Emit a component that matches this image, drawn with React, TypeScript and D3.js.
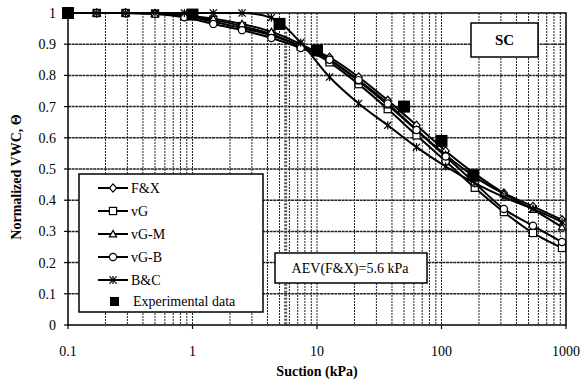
import React from "react";
import * as d3 from "d3";

const suction = [0.1, 0.17, 0.29, 0.5, 0.86, 1.47, 2.5, 4.3, 7.4, 12.6, 21.6, 37, 63, 108, 185, 317, 543, 929];
const fx = [1, 1, 1, 0.998, 0.99, 0.972, 0.952, 0.928, 0.895, 0.858, 0.795, 0.72, 0.64, 0.558, 0.485, 0.423, 0.38, 0.337];
const vg = [1, 1, 1, 0.998, 0.99, 0.978, 0.958, 0.932, 0.892, 0.842, 0.772, 0.692, 0.608, 0.525, 0.44, 0.362, 0.295, 0.247];
const vgm = [1, 1, 1, 0.999, 0.992, 0.982, 0.965, 0.94, 0.9, 0.85, 0.782, 0.705, 0.625, 0.545, 0.475, 0.42, 0.37, 0.314];
const vgb = [1, 1, 1, 0.997, 0.986, 0.965, 0.945, 0.92, 0.888, 0.85, 0.785, 0.71, 0.625, 0.54, 0.455, 0.372, 0.318, 0.266];
const bc = [1, 1, 1, 1, 1, 1, 1, 0.985, 0.905, 0.795, 0.71, 0.64, 0.57, 0.508, 0.455, 0.41, 0.372, 0.33];

const expX = [0.1, 1, 5, 10, 50, 100, 180];
const expY = [1, 0.995, 0.965, 0.88, 0.7, 0.59, 0.48];

const seriesNames = ["F&X", "vG", "vG-M", "vG-B", "B&C"];
const seriesValues = [fx, vg, vgm, vgb, bc];
const seriesMarkers = ["diamond", "square", "triangle", "circle", "star"];

const xTicks = [0.1, 1, 10, 100, 1000];
const yTicks = [0, 0.1, 0.2, 0.3, 0.4, 0.5, 0.6, 0.7, 0.8, 0.9, 1];
const aev = 5.6;

const FONT = '"Liberation Serif", "Times New Roman", "DejaVu Serif", serif';

function Marker({ type, x, y }: { type: string; x: number; y: number }) {
  const s = 3.6;
  const common = { fill: "white", stroke: "black", strokeWidth: 1.2 };
  if (type === "diamond")
    return <path d={`M${x},${y - s - 0.5}L${x + s},${y}L${x},${y + s + 0.5}L${x - s},${y}Z`} {...common} />;
  if (type === "square") return <rect x={x - s} y={y - s} width={2 * s} height={2 * s} {...common} />;
  if (type === "triangle")
    return <path d={`M${x},${y - s}L${x + s},${y + s * 0.8}L${x - s},${y + s * 0.8}Z`} {...common} />;
  if (type === "circle") return <circle cx={x} cy={y} r={s} {...common} />;
  return (
    <g stroke="black" strokeWidth={1.2}>
      <line x1={x - s} y1={y - s} x2={x + s} y2={y + s} />
      <line x1={x - s} y1={y + s} x2={x + s} y2={y - s} />
      <line x1={x} y1={y - s - 0.5} x2={x} y2={y + s + 0.5} />
    </g>
  );
}

export default function App() {
  const W = 580, H = 383;
  const left = 68, right = 566, top = 13, bottom = 325;
  const x = d3.scaleLog().domain([0.1, 1000]).range([left, right]);
  const y = d3.scaleLinear().domain([0, 1]).range([bottom, top]);

  const minor: number[] = [];
  for (let e = -1; e < 3; e++) for (let m = 2; m <= 9; m++) minor.push(m * Math.pow(10, e));

  const line = d3
    .line<number>()
    .x((_, i) => x(suction[i]))
    .y((d) => y(d))
    .curve(d3.curveMonotoneX);

  const legendRows = [188, 211, 234, 257, 280];

  return (
    <svg width={W} height={H} style={{ position: "absolute", left: 0, top: 0, background: "white" }} fontFamily={FONT}>
      <rect width={W} height={H} fill="white" />
      <g stroke="#222" strokeWidth={1}>
        {minor.map((v, i) => (
          <line key={"m" + i} x1={x(v)} x2={x(v)} y1={top} y2={bottom} strokeDasharray="2,1" />
        ))}
        {xTicks.slice(1, -1).map((v, i) => (
          <line key={"M" + i} x1={x(v)} x2={x(v)} y1={top} y2={bottom} strokeDasharray="2,1" />
        ))}
        {yTicks.slice(1, -1).map((v, i) => (
          <line key={"h" + i} x1={left} x2={right} y1={y(v)} y2={y(v)} strokeWidth={1.5} strokeDasharray="3,0.6" />
        ))}
      </g>
      <line x1={x(aev)} x2={x(aev)} y1={y(0.94)} y2={bottom} stroke="#555" strokeWidth={3} strokeDasharray="2,1.5" />
      {seriesValues.map((vals, si) => (
        <g key={si}>
          <path d={line(vals) || ""} fill="none" stroke="black" strokeWidth={2} />
          {vals.map((v, i) => (
            <Marker key={i} type={seriesMarkers[si]} x={x(suction[i])} y={y(v)} />
          ))}
        </g>
      ))}
      {expX.map((v, i) => (
        <rect key={i} x={x(v) - 6} y={y(expY[i]) - 6} width={12} height={12} fill="black" />
      ))}
      <rect x={left} y={top} width={right - left} height={bottom - top} fill="none" stroke="black" strokeWidth={1.5} />
      <g stroke="black" strokeWidth={1.2}>
        {xTicks.map((v, i) => (
          <line key={i} x1={x(v)} x2={x(v)} y1={bottom} y2={bottom + 4} />
        ))}
        {yTicks.map((v, i) => (
          <line key={i} x1={left - 4} x2={left} y1={y(v)} y2={y(v)} />
        ))}
      </g>
      <g fontSize={14} fill="black">
        {xTicks.map((v, i) => (
          <text key={i} x={x(v)} y={356} textAnchor="middle">
            {String(v)}
          </text>
        ))}
        {yTicks.map((v, i) => (
          <text key={i} x={56} y={y(v) + 5} textAnchor="end">
            {String(v)}
          </text>
        ))}
      </g>
      <text x={317} y={376} textAnchor="middle" fontSize={14} fontWeight="bold">
        Suction (kPa)
      </text>
      <text transform="translate(21,177) rotate(-90)" textAnchor="middle" fontSize={14} fontWeight="bold">
        Normalized VWC, Θ
      </text>
      <rect x={471} y={23} width={67} height={34} fill="white" stroke="black" strokeWidth={1.5} />
      <text x={504.5} y={45} textAnchor="middle" fontSize={15} fontWeight="bold">
        SC
      </text>
      <rect x={275} y={253} width={152} height={30} fill="white" stroke="black" strokeWidth={1.5} />
      <text x={350} y={273} textAnchor="middle" fontSize={14}>
        AEV(F&amp;X)=5.6 kPa
      </text>
      <rect x={79} y={174} width={184} height={138} fill="white" stroke="black" strokeWidth={1.5} />
      {seriesNames.map((n, i) => (
        <g key={i}>
          <line x1={98} x2={128} y1={legendRows[i]} y2={legendRows[i]} stroke="black" strokeWidth={2} />
          <Marker type={seriesMarkers[i]} x={113} y={legendRows[i]} />
          <text x={131} y={legendRows[i] + 5} fontSize={14}>
            {n}
          </text>
        </g>
      ))}
      <rect x={110} y={297} width={9} height={9} fill="black" />
      <text x={133} y={306} fontSize={14}>
        Experimental data
      </text>
    </svg>
  );
}
